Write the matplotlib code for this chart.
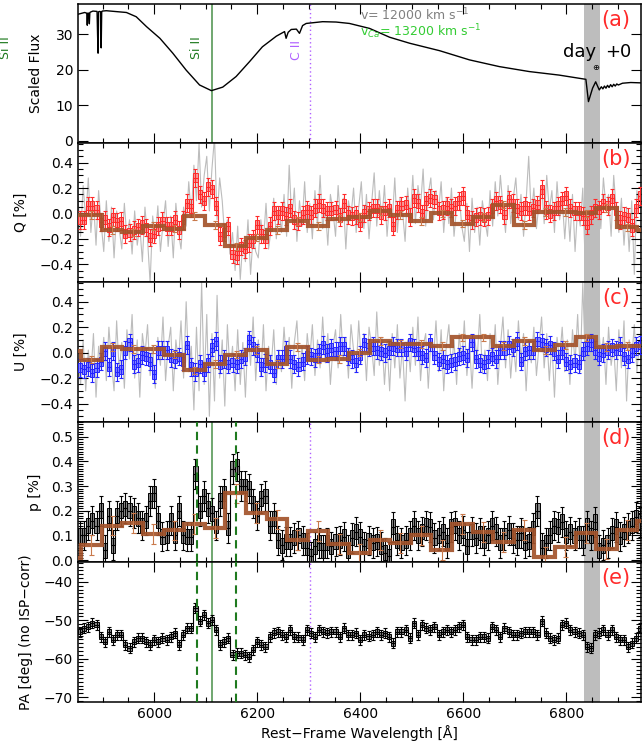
import numpy as np
import matplotlib
matplotlib.use("Agg")
import matplotlib.pyplot as plt
from matplotlib.ticker import MultipleLocator, NullLocator, FuncFormatter

# ---------------- flux spectrum ----------------
spec_wave = [5852, 5865, 5869, 5870, 5871, 5873, 5874, 5875, 5876, 5881,
             5889, 5890, 5891, 5892, 5894, 5896, 5897, 5898, 5899, 5907,
             5946, 5965, 5985, 6011, 6036, 6062, 6088, 6111, 6133, 6159,
             6185, 6210, 6237, 6253, 6256, 6260, 6266, 6276, 6282, 6288,
             6295, 6327, 6353, 6379, 6418, 6457, 6496, 6554, 6612, 6670,
             6728, 6786, 6838, 6843, 6851, 6857, 6864, 6868, 6871, 6874,
             6877, 6880, 6883, 6886, 6889, 6892, 6895, 6898, 6901, 6909,
             6925, 6945]
spec_flux = [35.7, 36.2, 36.0, 32.6, 36.0, 36.0, 33.0, 36.1, 36.3, 36.6,
             36.5, 30.0, 24.7, 36.4, 36.5, 36.4, 26.2, 36.3, 36.6, 36.7,
             36.2, 35.0, 32.2, 28.9, 24.7, 19.9, 15.7, 14.1, 15.1, 18.1,
             22.3, 26.5, 29.5, 30.8, 28.9, 30.6, 31.4, 31.5, 30.3, 32.5,
             33.1, 33.6, 33.5, 33.1, 31.7, 29.2, 27.5, 25.4, 22.8, 20.9,
             19.5, 18.5, 17.3, 11.0, 14.8, 16.6, 14.3, 15.2, 14.6, 15.4,
             14.8, 15.6, 15.0, 15.8, 15.2, 15.9, 15.4, 16.0, 15.7, 16.2,
             16.4, 16.3]

# ---------------- unbinned Stokes parameters (5 A sampling) ----------------
raw_wave = np.arange(5852, 6945, 5)
q_raw = [0.12, -0.18, 0.22, -0.05, 0.28, -0.15, 0.10, -0.25, 0.18, -0.08,
         -0.30, 0.10, -0.22, 0.05, -0.35, 0.02, -0.12, -0.28, 0.08, -0.20,
         -0.05, -0.32, 0.02, -0.25, -0.10, -0.38, 0.05, -0.20, -0.55, -0.02,
         -0.22, 0.06, -0.30, -0.08, 0.10, -0.26, -0.02, -0.35, 0.08, -0.15,
         -0.28, 0.05, -0.10, 0.25, -0.02, 0.38, 0.10, 0.55, 0.05, 0.30,
         0.45, 0.02, 0.35, 0.60, -0.05, 0.28, 0.10, -0.20, -0.05, -0.32,
         -0.15, -0.45, -0.10, -0.52, -0.22, -0.38, -0.05, -0.48, -0.18, -0.30,
         -0.35, -0.05, -0.22, 0.08, -0.28, -0.12, 0.12, -0.20, 0.05, -0.15,
         0.15, -0.18, 0.38, -0.05, 0.20, -0.22, 0.10, -0.10, 0.25, -0.15,
         0.08, -0.20, 0.18, -0.10, 0.30, -0.12, 0.05, -0.25, 0.15, 0.02,
         -0.18, 0.22, -0.08, 0.12, -0.28, 0.10, -0.02, 0.20, -0.15, 0.05,
         0.25, -0.12, 0.15, -0.20, 0.08, 0.32, -0.10, 0.18, -0.05, 0.22,
         -0.18, 0.10, -0.08, 0.28, -0.15, 0.12, 0.02, -0.22, 0.20, -0.05,
         0.30, -0.08, 0.22, 0.05, 0.35, -0.10, 0.15, 0.28, -0.05, 0.18,
         0.02, 0.25, -0.15, 0.12, -0.08, 0.20, -0.18, 0.05, 0.15, -0.10,
         -0.22, 0.08, -0.30, 0.12, -0.15, 0.05, -0.25, 0.10, -0.05, -0.18,
         0.18, -0.10, 0.25, -0.02, 0.30, 0.05, -0.15, 0.22, -0.08, 0.12,
         0.28, -0.05, 0.15, -0.18, 0.10, 0.45, -0.02, 0.20, -0.12, 0.08,
         0.22, -0.08, 0.30, 0.02, 0.18, -0.15, 0.25, -0.05, 0.12, -0.20,
         0.10, -0.22, 0.15, -0.30, 0.05, -0.10, 0.20, -0.45, 0.08, -0.15,
         0.35, -0.05, 0.22, -0.12, 0.28, 0.05, 0.15, -0.18, 0.30, 0.02,
         -0.15, 0.12, -0.25, 0.05, -0.30, 0.10, -0.48, 0.18, 0.05]
u_raw = [-0.05, -0.25, 0.10, -0.30, 0.02, -0.18, 0.15, -0.35, 0.05, -0.12,
         0.12, -0.22, 0.20, -0.08, -0.30, 0.25, -0.15, 0.08, -0.28, 0.18,
         -0.05, 0.30, -0.20, 0.10, -0.35, 0.15, -0.02, 0.22, -0.18, 0.05,
         -0.28, 0.12, -0.10, 0.28, -0.22, 0.05, 0.20, -0.30, 0.10, -0.08,
         0.25, -0.20, 0.40, -0.15, 0.05, -0.45, 0.20, -0.30, 0.55, -0.25,
         0.30, -0.50, 0.15, -0.38, 0.45, -0.20, 0.10, -0.42, 0.22, -0.15,
         0.05, -0.30, 0.18, -0.25, 0.08, -0.35, 0.15, -0.10, 0.28, -0.22,
         0.10, -0.18, 0.22, -0.30, 0.05, -0.12, 0.18, -0.25, 0.02, -0.15,
         0.20, -0.10, 0.12, -0.28, 0.08, 0.25, -0.15, 0.05, -0.22, 0.15,
         -0.05, 0.22, -0.18, 0.10, -0.12, 0.28, -0.08, 0.15, -0.25, 0.05,
         0.18, -0.12, 0.30, -0.05, 0.12, -0.20, 0.22, 0.02, -0.15, 0.25,
         -0.08, 0.15, -0.22, 0.20, 0.05, -0.18, 0.32, -0.10, 0.12, -0.25,
         0.08, -0.30, 0.15, -0.12, 0.22, -0.20, 0.05, -0.38, 0.10, -0.15,
         0.20, -0.10, 0.28, -0.22, 0.05, 0.15, -0.28, 0.10, -0.05, 0.25,
         -0.15, 0.18, -0.30, 0.05, 0.22, -0.12, 0.10, -0.25, 0.15, -0.08,
         0.25, -0.18, 0.08, -0.28, 0.12, -0.05, 0.30, -0.15, 0.02, -0.22,
         0.15, -0.10, 0.22, -0.25, 0.05, 0.28, -0.12, 0.18, -0.20, 0.08,
         -0.15, 0.25, -0.05, 0.15, -0.30, 0.10, -0.08, 0.20, -0.18, 0.05,
         0.28, -0.12, 0.15, -0.22, 0.08, -0.35, 0.12, -0.05, 0.20, -0.15,
         0.10, -0.25, 0.18, -0.08, 0.30, -0.15, 0.55, -0.10, 0.22, -0.05,
         0.15, -0.20, 0.28, -0.05, 0.12, -0.25, 0.20, -0.10, 0.05, -0.30,
         0.18, -0.12, 0.25, -0.38, 0.10, -0.05, 0.22, -0.15, 0.08]

# ---------------- binned polarimetry (8 A bins) ----------------
bin_step = 8
bin_wave = np.arange(5856, 6945, bin_step)
q_bin = [-0.05, -0.05, 0.06, 0.06, 0.03, -0.07, -0.05, -0.11, -0.03, -0.07,
         -0.06, -0.16, -0.15, -0.13, -0.11, -0.09, -0.11, -0.19, -0.16, -0.10,
         -0.06, -0.10, -0.10, -0.05, -0.13, -0.05, 0.08, 0.04, 0.28, 0.15,
         0.10, 0.21, 0.19, 0.06, -0.18, -0.15, -0.10, -0.32, -0.33, -0.26,
         -0.28, -0.23, -0.20, -0.09, -0.16, -0.20, -0.10, 0.02, -0.01, 0.02,
         -0.02, 0.04, -0.05, -0.06, -0.01, 0.03, -0.01, 0.04, 0.08, 0.04,
         0.02, 0.02, 0.03, -0.03, 0.08, -0.01, -0.02, -0.01, -0.07, 0.00,
         0.02, 0.04, 0.04, -0.01, 0.02, 0.04, -0.10, 0.03, 0.06, 0.07,
         -0.03, 0.12, 0.08, 0.00, 0.10, 0.12, 0.11, 0.02, 0.03, 0.06,
         0.04, 0.06, 0.10, 0.14, -0.01, -0.05, -0.03, -0.02, -0.03, -0.02,
         0.04, 0.10, 0.07, -0.01, 0.11, 0.08, 0.04, 0.02, 0.06, 0.02,
         0.04, 0.07, 0.19, 0.03, 0.00, 0.02, 0.06, 0.10, 0.14, 0.04,
         0.02, 0.02, -0.02, -0.09, -0.01, 0.04, 0.03, 0.08, 0.06, 0.12,
         0.02, -0.05, -0.02, -0.03, -0.11, 0.04, 0.14]
u_bin = [-0.12, -0.13, -0.11, -0.16, -0.12, -0.07, 0.01, -0.11, 0.01, -0.15,
         -0.13, 0.02, 0.08, -0.09, -0.08, -0.02, -0.03, -0.07, -0.17, 0.02,
         0.02, 0.02, -0.04, -0.05, -0.03, -0.07, 0.06, -0.11, -0.15, -0.09,
         -0.15, -0.08, 0.04, 0.09, -0.09, -0.05, -0.09, -0.08, -0.09, -0.05,
         -0.03, 0.10, 0.05, 0.00, -0.11, -0.08, -0.09, -0.16, -0.05, -0.05,
         0.02, -0.05, -0.09, -0.11, -0.07, -0.02, -0.03, -0.04, 0.00, 0.06,
         0.00, 0.04, 0.01, 0.05, 0.05, -0.03, -0.05, -0.08, -0.02, 0.08,
         0.04, 0.05, 0.02, 0.01, 0.00, 0.02, 0.05, 0.04, 0.04, 0.01,
         0.08, 0.04, 0.01, -0.02, -0.04, 0.08, -0.02, -0.07, -0.05, -0.09,
         -0.08, -0.07, -0.03, -0.02, -0.04, 0.08, -0.05, -0.08, -0.09, -0.05,
         -0.03, -0.05, 0.02, 0.02, 0.06, 0.04, 0.09, -0.07, 0.01, 0.02,
         0.02, 0.09, 0.08, 0.04, 0.06, 0.01, -0.05, 0.02, -0.07, -0.09,
         -0.08, -0.09, 0.01, 0.05, 0.08, 0.02, -0.03, 0.00, 0.02, 0.04,
         0.02, 0.05, -0.03, -0.05, 0.00, 0.05, 0.06]
p_bin = [0.10, 0.10, 0.14, 0.16, 0.14, 0.20, 0.04, 0.18, 0.06, 0.18,
         0.20, 0.21, 0.20, 0.19, 0.17, 0.14, 0.16, 0.24, 0.27, 0.16,
         0.095, 0.10, 0.16, 0.10, 0.20, 0.10, 0.095, 0.095, 0.35, 0.20,
         0.26, 0.21, 0.19, 0.14, 0.24, 0.27, 0.13, 0.37, 0.38, 0.30,
         0.30, 0.29, 0.23, 0.18, 0.25, 0.26, 0.14, 0.17, 0.08, 0.06,
         0.075, 0.075, 0.09, 0.10, 0.08, 0.05, 0.015, 0.055, 0.07, 0.04,
         0.07, 0.055, 0.075, 0.08, 0.095, 0.04, 0.09, 0.115, 0.095, 0.055,
         0.08, 0.07, 0.075, 0.055, 0.03, 0.015, 0.135, 0.08, 0.07, 0.08,
         0.10, 0.14, 0.10, 0.115, 0.14, 0.135, 0.09, 0.10, 0.115, 0.07,
         0.135, 0.14, 0.10, 0.12, 0.055, 0.115, 0.09, 0.11, 0.08, 0.10,
         0.14, 0.115, 0.07, 0.10, 0.12, 0.09, 0.08, 0.11, 0.07, 0.075,
         0.13, 0.20, 0.05, 0.07, 0.10, 0.14, 0.135, 0.155, 0.10, 0.115,
         0.10, 0.11, 0.08, 0.14, 0.10, 0.155, 0.04, 0.06, 0.07, 0.11,
         0.135, 0.095, 0.115, 0.13, 0.14, 0.175, 0.155]
pa_bin = [-53.0, -52.1, -51.7, -50.8, -51.2, -54.3, -55.6, -53.0, -55.1, -53.8,
          -53.8, -56.4, -57.3, -55.6, -54.7, -54.7, -55.6, -56.4, -55.1, -55.6,
          -54.7, -55.1, -54.3, -53.4, -56.4, -53.8, -52.1, -52.1, -46.9, -50.3,
          -48.6, -50.8, -49.9, -52.5, -56.4, -55.6, -54.7, -59.0, -58.6, -58.6,
          -59.0, -59.5, -57.7, -55.6, -56.4, -56.9, -54.3, -53.2, -53.0, -53.8,
          -54.3, -52.5, -54.3, -54.4, -55.1, -52.5, -53.4, -54.3, -52.5, -53.0,
          -53.2, -53.0, -53.0, -54.3, -52.1, -53.8, -53.8, -53.4, -55.1, -53.8,
          -54.1, -53.8, -53.0, -53.8, -53.4, -54.3, -56.0, -53.0, -53.0, -52.5,
          -54.7, -50.8, -53.8, -51.2, -52.1, -52.5, -51.7, -53.8, -53.0, -52.5,
          -53.0, -52.5, -51.7, -51.2, -54.3, -55.1, -55.1, -54.3, -54.3, -54.7,
          -51.7, -52.5, -54.3, -52.1, -53.0, -53.8, -53.8, -53.4, -53.0, -53.0,
          -53.0, -53.8, -50.3, -53.4, -54.7, -55.1, -54.7, -51.2, -50.8, -52.5,
          -53.0, -53.4, -53.8, -56.9, -57.3, -53.8, -53.4, -52.5, -53.8, -52.5,
          -54.3, -55.1, -55.1, -56.9, -56.0, -54.7, -52.1]
q_err, u_err, p_err, pa_err = 0.07, 0.07, 0.06, 1.3

# ---------------- coarse 40 A bins ----------------
coarse_edges = np.arange(5818, 6979, 40)
q_coarse = [-0.01, -0.01, -0.13, -0.15, -0.10, -0.12, -0.02, -0.09, -0.26, -0.19,
            -0.13, -0.06, -0.10, -0.04, -0.03, 0.02, -0.01, -0.06, 0.00, -0.08,
            -0.03, 0.07, -0.09, 0.01, 0.01, 0.00, 0.045, -0.11, -0.13]
u_coarse = [0.01, -0.055, 0.045, 0.03, 0.03, -0.015, -0.14, -0.09, -0.015, 0.02,
            -0.09, 0.045, -0.055, -0.05, 0.00, 0.09, 0.07, 0.07, 0.05, 0.12,
            0.12, 0.05, 0.09, 0.02, 0.06, 0.12, 0.045, 0.05, 0.05]
p_coarse = [0.01, 0.06, 0.14, 0.15, 0.105, 0.12, 0.145, 0.13, 0.27, 0.19,
            0.165, 0.08, 0.118, 0.064, 0.027, 0.08, 0.068, 0.10, 0.04, 0.145,
            0.115, 0.072, 0.122, 0.013, 0.054, 0.11, 0.045, 0.122, 0.16]
coarse_err_qu, coarse_err_p = 0.03, 0.04

# ---------------- line markers ----------------
si_line = 6112
si_hv = [6083, 6159]
c_line = 6303
telluric = (6835, 6866)

W, H = 642, 750
fig = plt.figure(figsize=(W / 100, H / 100), dpi=100)
plt.rcParams['font.family'] = ['DejaVu Sans']

left_px, right_px = 78, 641
edges_px = [4, 143, 282, 422, 562, 702]
axes = []
for t, b in zip(edges_px[:-1], edges_px[1:]):
    axes.append(fig.add_axes([left_px / W, 1 - b / H,
                              (right_px - left_px) / W, (b - t) / H]))
ax_f, ax_q, ax_u, ax_p, ax_pa = axes


def px(x, y):
    return x / W, 1 - y / H


def minus_fmt(fmt):
    return FuncFormatter(lambda v, _: fmt.format(v).replace('-', '\u2212'))


RED = '#ff2a2a'
BROWN = '#a3532b'
BROWN_ERR = '#c97a4c'
GREEN = '#64a064'
DKGREEN = '#1f7a1f'
PURPLE = '#b060ff'
BAND = '#bdbdbd'


def binned(ax, vals, err, line, fill):
    vals = np.asarray(vals)
    half = 0.5 * err
    ax.bar(bin_wave, 2 * half, bottom=vals - half, width=bin_step,
           color=fill, edgecolor=line, linewidth=0.7, zorder=3)
    ax.step(bin_wave, vals, where='mid', color=line, lw=0.8, zorder=3)
    ax.errorbar(bin_wave, vals, yerr=err, fmt='none', ecolor=line,
                elinewidth=0.8, capsize=1.3, capthick=0.8, zorder=3)


def coarse(ax, vals, err):
    ax.stairs(vals, coarse_edges, color=BROWN, lw=3.0, alpha=0.92, zorder=4)
    centres = 0.5 * (coarse_edges[:-1] + coarse_edges[1:])
    ax.errorbar(centres, vals, yerr=err, fmt='none', ecolor=BROWN_ERR,
                elinewidth=0.8, capsize=1.8, capthick=0.8, zorder=4)


for ax in axes:
    ax.set_xlim(5852, 6945)
    ax.axvspan(*telluric, color=BAND, lw=0, zorder=1.5)
    ax.xaxis.set_major_locator(MultipleLocator(200))
    ax.xaxis.set_minor_locator(MultipleLocator(50))
    ax.tick_params(which='both', direction='in', top=True, right=True,
                   labelsize=10, width=0.8)
    ax.tick_params(which='major', length=7)
    ax.tick_params(which='minor', length=3.5)
    for s in ax.spines.values():
        s.set_linewidth(1.1)
    if ax is not ax_pa:
        ax.tick_params(labelbottom=False)

# (a) flux spectrum
ax_f.plot(spec_wave, spec_flux, color='black', lw=1.0, zorder=3)
ax_f.set_ylim(-0.7, 38.6)
ax_f.yaxis.set_major_locator(MultipleLocator(10))
ax_f.yaxis.set_minor_locator(NullLocator())
ax_f.axvline(si_line, color=GREEN, lw=1.3, zorder=2)
ax_f.axvline(c_line, color=PURPLE, lw=1.0, ls=(0, (1, 2)), zorder=2)

# (b) Q
ax_q.plot(raw_wave, q_raw, color='#bcbcbc', lw=0.8, zorder=1)
binned(ax_q, q_bin, q_err, RED, '#f59a9a')
coarse(ax_q, q_coarse, coarse_err_qu)
ax_q.set_ylim(-0.54, 0.555)

# (c) U
ax_u.plot(raw_wave, u_raw, color='#bcbcbc', lw=0.8, zorder=1)
binned(ax_u, u_bin, u_err, '#2424ff', '#8a8aff')
coarse(ax_u, u_coarse, coarse_err_qu)
ax_u.set_ylim(-0.545, 0.555)

for ax in (ax_q, ax_u):
    ax.yaxis.set_major_locator(MultipleLocator(0.2))
    ax.yaxis.set_minor_locator(MultipleLocator(0.05))
    ax.yaxis.set_major_formatter(minus_fmt('{:.1f}'))

# (d) p
binned(ax_p, p_bin, p_err, 'black', '#8c8c8c')
coarse(ax_p, p_coarse, coarse_err_p)
ax_p.set_ylim(-0.008, 0.56)
ax_p.yaxis.set_major_locator(MultipleLocator(0.1))
ax_p.yaxis.set_minor_locator(MultipleLocator(0.01))
ax_p.yaxis.set_major_formatter(minus_fmt('{:.1f}'))

# (e) PA
binned(ax_pa, pa_bin, pa_err, 'black', '#8c8c8c')
ax_pa.set_ylim(-71.3, -34.8)
ax_pa.yaxis.set_major_locator(MultipleLocator(10))
ax_pa.yaxis.set_minor_locator(MultipleLocator(1))
ax_pa.yaxis.set_major_formatter(minus_fmt('{:.0f}'))

for ax in (ax_p, ax_pa):
    ax.axvline(si_line, color=GREEN, lw=1.3, zorder=2)
    for w in si_hv:
        ax.axvline(w, color=DKGREEN, lw=1.5, ls=(0, (4, 2.5)), zorder=5)
    ax.axvline(c_line, color=PURPLE, lw=1.0, ls=(0, (1, 2)), zorder=2)

# axis labels
labels = [(ax_f, 'Scaled Flux', -0.062), (ax_q, 'Q [%]', -0.089),
          (ax_u, 'U [%]', -0.089), (ax_p, 'p [%]', -0.064),
          (ax_pa, 'PA [deg] (no ISP\u2212corr)', -0.080)]
for ax, txt, xc in labels:
    ax.set_ylabel(txt, fontsize=10)
    ax.yaxis.set_label_coords(xc, 0.5)
ax_pa.set_xlabel('Rest\u2212Frame Wavelength [\u00c5]', fontsize=10, labelpad=3)

# panel tags
for ax, tag in zip(axes, ['(a)', '(b)', '(c)', '(d)', '(e)']):
    ax.text(0.955, 0.885, tag, transform=ax.transAxes, color=RED,
            fontsize=15, ha='center', va='center', zorder=6)

# annotations in the flux panel
fig.text(*px(6, 48), 'Si II', rotation=90, color=DKGREEN, fontsize=9,
         ha='center', va='center')
fig.text(*px(197, 48), 'Si II', rotation=90, color=DKGREEN, fontsize=9,
         ha='center', va='center')
fig.text(*px(297, 50), 'C II', rotation=90, color=PURPLE, fontsize=9,
         ha='center', va='center')
fig.text(*px(360, 15), 'v= 12000 km s$^{-1}$', color='#808080', fontsize=9,
         ha='left', va='center')
fig.text(*px(360, 32), 'v$_{Ca}$= 13200 km s$^{-1}$', color='#33cc33',
         fontsize=9, ha='left', va='center')
fig.text(*px(563, 52), 'day', color='black', fontsize=13, ha='left',
         va='center')
fig.text(*px(596, 68), '\u2295', color='black', fontsize=6, ha='center',
         va='center')
fig.text(*px(605, 52), '+0', color='black', fontsize=13, ha='left',
         va='center')

fig.savefig('out.png', dpi=100)
